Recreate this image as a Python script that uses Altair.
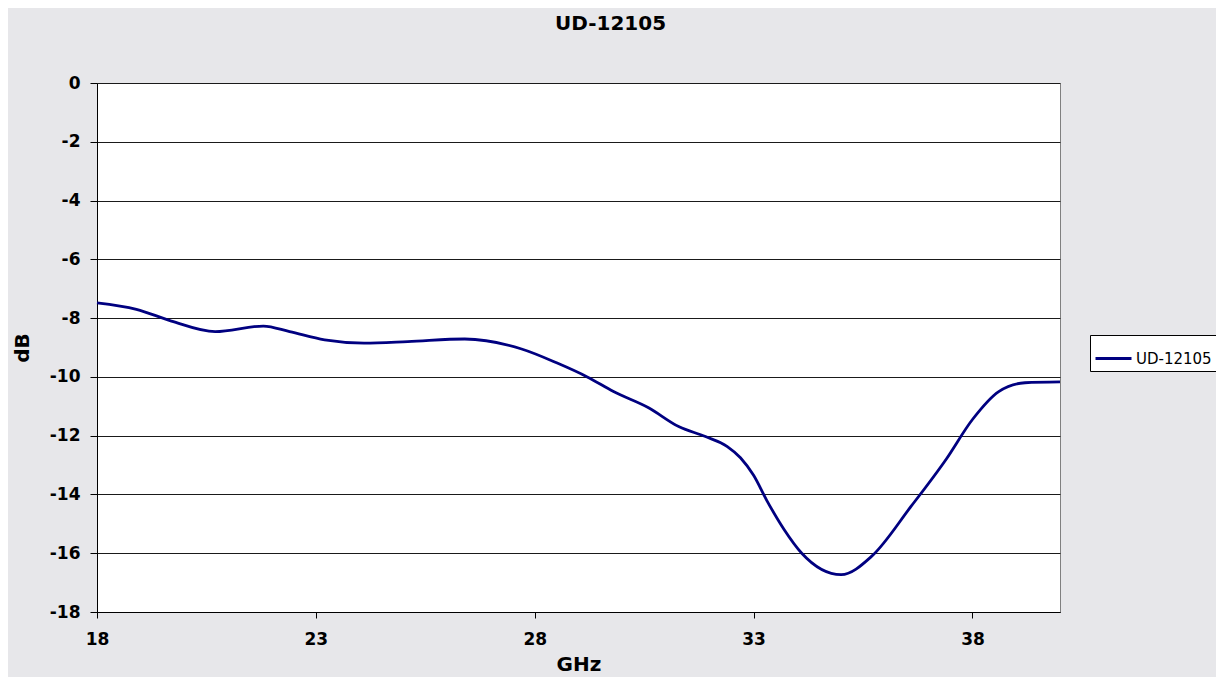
import altair as alt
import pandas as pd

ghz = [18, 18.9, 19.7, 20.7, 21.8, 22.4, 23.2, 24.1, 25.1, 26.4, 27.7, 28.5, 29.2, 29.8,
       30.6, 31.3, 31.9, 32.4, 32.7, 33.0, 33.3, 33.7, 34.1, 35.0, 35.7, 36.6, 37.4, 38.0,
       38.6, 39.2, 40]
db = [-7.48, -7.7, -8.1, -8.46, -8.27, -8.46, -8.74, -8.85, -8.8, -8.71, -9.05, -9.52,
      -10.0, -10.5, -11.05, -11.7, -12.03, -12.37, -12.75, -13.35, -14.2, -15.2, -16.0,
      -16.73, -16.1, -14.4, -12.8, -11.45, -10.5, -10.2, -10.17]
series_name = "UD-12105"
x_ticks = [18, 23, 28, 33, 38]
y_ticks = [0, -2, -4, -6, -8, -10, -12, -14, -16, -18]

df = pd.DataFrame({"GHz": ghz, "dB": db, "series": [series_name] * len(ghz)})

FONT = "DejaVu Sans"
MINUS_FIX = "replace(datum.label, '\u2212', '-')"

line = alt.Chart(df).mark_line(interpolate="monotone", strokeWidth=2.8).encode(
    x=alt.X("GHz:Q",
            scale=alt.Scale(domain=[18, 40], nice=False, zero=False),
            axis=alt.Axis(values=x_ticks, title="GHz", grid=False, domainColor="#000000",
                          tickColor="#000000", tickSize=6, labelPadding=13,
                          labelFlush=False,
                          labelFontSize=17, labelFontWeight="bold", labelFont=FONT,
                          labelColor="#000000", titleFontSize=20, titleFontWeight="bold",
                          titleFont=FONT, titleColor="#000000", titlePadding=7)),
    y=alt.Y("dB:Q",
            scale=alt.Scale(domain=[-18, 0], nice=False, zero=False),
            axis=alt.Axis(values=y_ticks, title="dB", grid=True, gridColor="#1a1a1a",
                          gridWidth=1, domainColor="#000000", tickColor="#000000",
                          tickSize=7, labelPadding=10, labelFontSize=17,
                          labelFlush=False,
                          labelFontWeight="bold", labelFont=FONT, labelColor="#000000",
                          labelExpr=MINUS_FIX,
                          titleFontSize=20, titleFontWeight="bold", titleFont=FONT,
                          titleColor="#000000", titlePadding=17)),
    color=alt.Color("series:N",
                    scale=alt.Scale(domain=[series_name], range=["#000080"]),
                    legend=alt.Legend(title=None, orient="none", legendX=993, legendY=252,
                                      symbolType="stroke", symbolSize=1296,
                                      symbolStrokeWidth=2.8, labelFontSize=15,
                                      labelFont=FONT, labelColor="#000000",
                                      strokeColor="#000000", fillColor="#ffffff",
                                      padding=4, labelOffset=3)),
)

chart = line.properties(
    width=963,
    height=529,
    title=alt.TitleParams(series_name, fontSize=20, fontWeight="bold", font=FONT,
                          color="#000000", anchor="middle", dx=32, offset=40),
    autosize=alt.AutoSizeParams(type="none"),
    padding={"left": 89, "top": 75, "right": 156, "bottom": 65},
    background="#e7e7ea",
).configure_view(
    fill="#ffffff", stroke="#808080", strokeWidth=1
)

chart.save("out.html", embed_options={"renderer": "svg", "actions": False})
